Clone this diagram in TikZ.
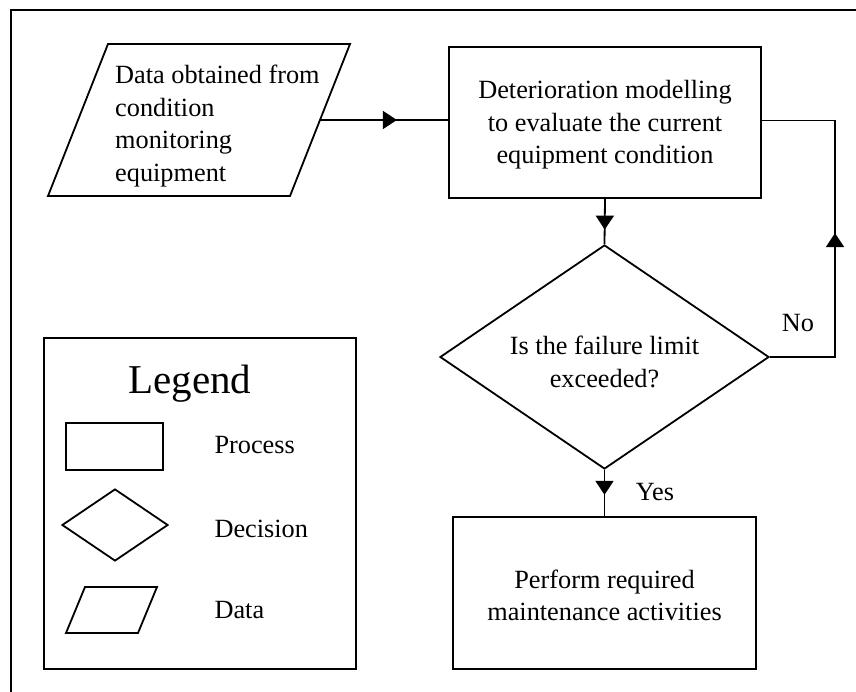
\documentclass[tikz,border=0pt]{standalone}
\usepackage{fontspec}
\setmainfont{Liberation Serif}
\usetikzlibrary{arrows.meta,decorations.markings,shapes.geometric}

\begin{document}
\begin{tikzpicture}[x=1pt,y=-1pt,
  line join=miter,
  body/.style={font=\fontsize{26.3}{32.5}\selectfont},
  outline/.style={line width=1.8pt},
  procbox/.style={draw, outline, rectangle, inner sep=0pt, align=center, body},
  decbox/.style={draw, outline, diamond, inner sep=0pt, align=center, body},
  flow/.style={outline},
  tipat/.style={postaction={decorate},
    decoration={markings, mark=at position #1 with {\arrow{Triangle[length=14pt,width=18pt]}}}},
]
\useasboundingbox (0,0) rectangle (856,692);

% page frame (open to the right and bottom)
\draw[line width=2pt] (11,692) -- (11,10) -- (856,10);

% data input
\draw[outline] (108,44) -- (350,44) -- (290,196) -- (48,196) -- cycle;
\node[body, align=left, anchor=west, inner sep=0pt] (data) at (115,126)
  {Data obtained from\\condition\\monitoring\\equipment};
\coordinate (dataout) at (320,120);

% process, decision, action
\node[procbox, minimum width=312pt, minimum height=151pt] (model) at (605,122.5) {};
\node[body, align=center] (modeltext) at (605,125)
  {Deterioration modelling\\to evaluate the current\\equipment condition};
\node[decbox, minimum width=329pt, minimum height=224pt] (limit) at (604.5,357) {};
\node[body, align=center] (limittext) at (604.5,362) {Is the failure limit\\exceeded?};
\node[procbox, minimum width=303pt, minimum height=152pt] (act) at (604.5,593) {};
\node[body, align=center] (acttext) at (604.5,595.5) {Perform required\\maintenance activities};
\coordinate (loop) at (835,120.5);

% connectors
\draw[flow, tipat=0.6] (dataout) -- (model.west |- dataout);
\draw[flow, tipat=0.68] (model.south) -- (limit.north);
\draw[flow, tipat=189pt] (limit.east) -| (loop) -- (model.east |- loop);
\draw[flow, tipat=0.54] (limit.south) -- (act.north);
\node[body] (nolabel) at (798,323) {No};
\node[body] (yeslabel) at (655,492) {Yes};

% legend
\node[draw, outline, minimum width=312pt, minimum height=331pt, inner sep=0pt]
  (legend) at (200,503.5) {};
\node[font=\fontsize{41}{41}\selectfont, anchor=base] (legtitle) at (190,393) {Legend};
\node[procbox, minimum width=97pt, minimum height=47pt] (keyproc) at (114.5,446.5) {};
\node[decbox, minimum width=106pt, minimum height=72pt] (keydec) at (115,525) {};
\draw[outline] (85,587) -- (157,587) -- (138,633) -- (66,633) -- cycle;
\node[body, anchor=base west] (lproc) at (211,453) {Process};
\node[body, anchor=base west] (ldec) at (211,537) {Decision};
\node[body, anchor=base west] (ldata) at (211,618) {Data};
\end{tikzpicture}
\end{document}
